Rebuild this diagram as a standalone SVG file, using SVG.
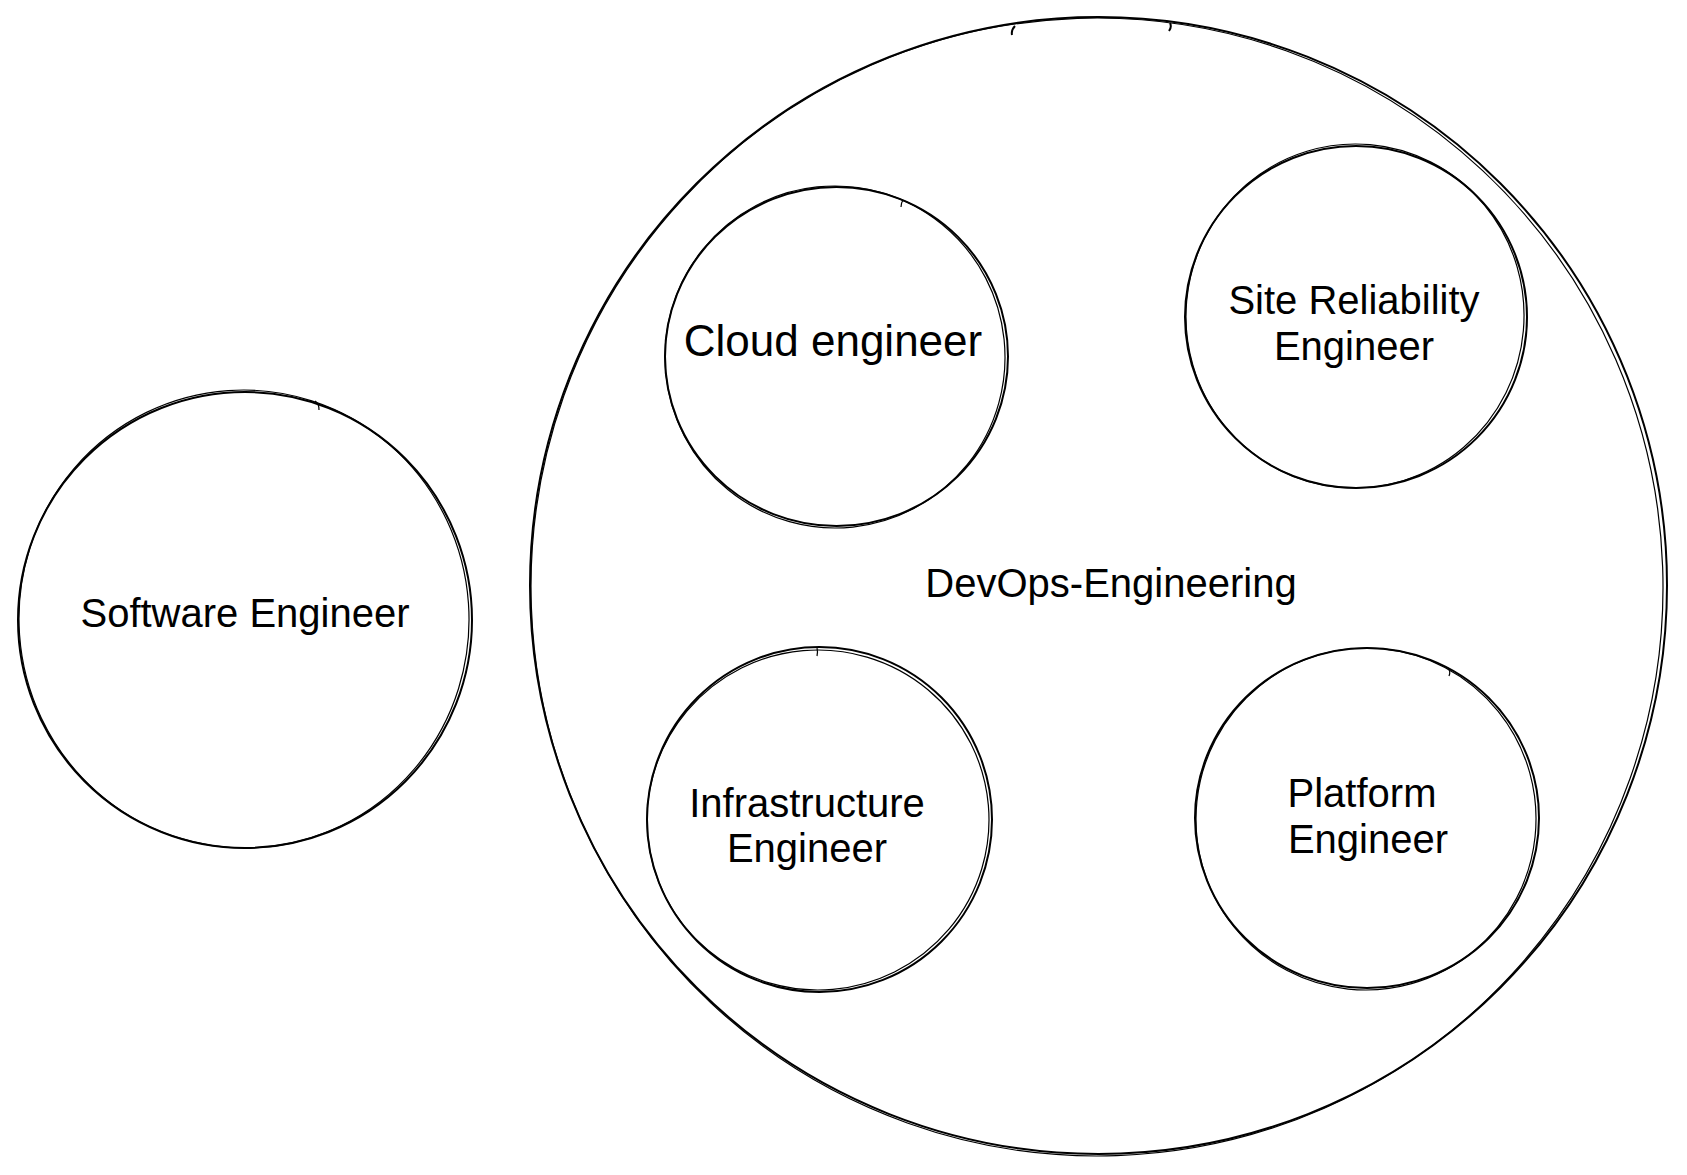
<svg xmlns="http://www.w3.org/2000/svg" width="1687" height="1175" viewBox="0 0 1687 1175">
<style>
.s1{fill:none;stroke:#000;stroke-width:2}
.s2{fill:none;stroke:#000;stroke-width:1.2}
.t{font-family:"Liberation Sans",Arial,sans-serif;font-size:40px;fill:#000;text-anchor:middle}
</style>
<rect width="1687" height="1175" fill="#fff"/>
<g id="devops">
<ellipse class="s1" cx="1098.5" cy="585.5" rx="568.5" ry="568.5"/>
<ellipse class="s2" cx="1097" cy="587" rx="566" ry="569" transform="rotate(-2 1097 587)"/>
<path class="s1" d="M1015 26 q-4 4 -3 9 M1170 23 q2 4 -1 8"/>
<text class="t" x="1111" y="597">DevOps-Engineering</text>
</g>
<g id="software">
<ellipse class="s1" cx="245" cy="620" rx="227" ry="228"/>
<ellipse class="s2" cx="244" cy="619" rx="225" ry="229" transform="rotate(-4 244 619)"/>
<path class="s2" d="M315 401 q4 2 4 9"/>
<text class="t" x="245" y="627">Software Engineer</text>
</g>
<g id="cloud">
<ellipse class="s1" cx="836.5" cy="356.5" rx="171.5" ry="169.5"/>
<ellipse class="s2" cx="835" cy="357" rx="170" ry="171" transform="rotate(-6 835 357)"/>
<path class="s2" d="M903 200 q-2 3 -2 7"/>
<text class="t" x="833" y="356" style="font-size:44px">Cloud engineer</text>
</g>
<g id="sre">
<ellipse class="s1" cx="1356" cy="317" rx="171" ry="171"/>
<ellipse class="s2" cx="1355" cy="316" rx="169" ry="172" transform="rotate(5 1355 316)"/>
<text class="t" x="1354" y="314">Site Reliability</text>
<text class="t" x="1354" y="360">Engineer</text>
</g>
<g id="infra">
<ellipse class="s1" cx="819.5" cy="819.5" rx="172.5" ry="172.5"/>
<ellipse class="s2" cx="818" cy="820" rx="171" ry="170" transform="rotate(-5 818 820)"/>
<path class="s2" d="M817 648 q1 4 0 8"/>
<text class="t" x="807" y="817">Infrastructure</text>
<text class="t" x="807" y="862">Engineer</text>
</g>
<g id="platform">
<ellipse class="s1" cx="1367" cy="818" rx="172" ry="170"/>
<ellipse class="s2" cx="1366" cy="819" rx="170" ry="171" transform="rotate(6 1366 819)"/>
<path class="s2" d="M1448 668 q3 3 1 8"/>
<text class="t" x="1362" y="807">Platform</text>
<text class="t" x="1368" y="853">Engineer</text>
</g>
<g id="connectors"></g>
</svg>
